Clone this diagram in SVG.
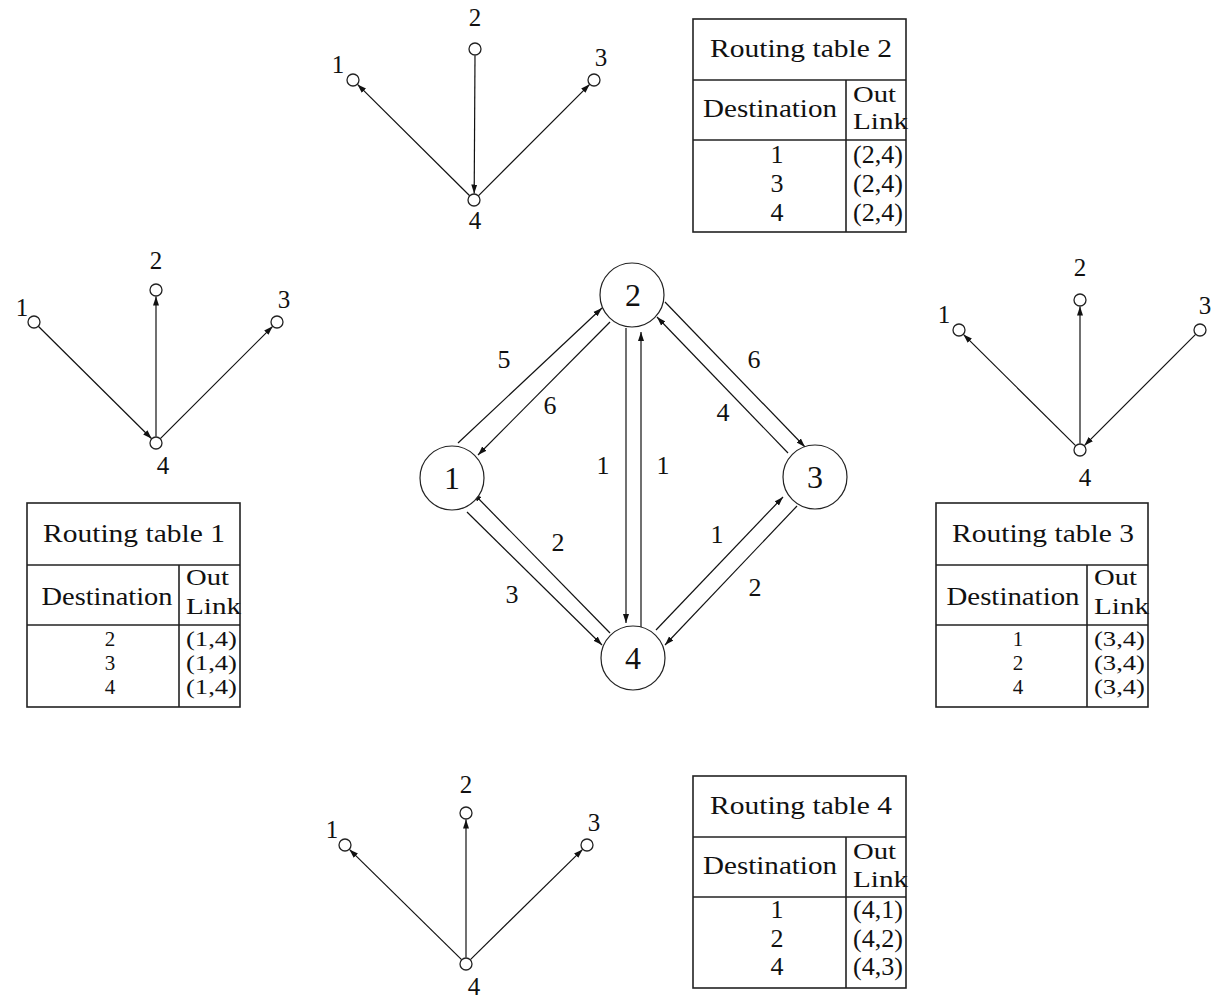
<svg xmlns="http://www.w3.org/2000/svg" width="1213" height="1006" viewBox="0 0 1213 1006">
<style>
text{font-family:"Liberation Serif","Times New Roman",serif;fill:#111}
.tt{font-size:26px}
.td{font-size:21px}
.ol{font-size:24px}
.lbl{font-size:25px;text-anchor:middle}
.nl{font-size:32px;text-anchor:middle}
.el{font-size:26px;text-anchor:middle}
.mid{text-anchor:middle}
.box{fill:#fff;stroke:#222;stroke-width:1.6}
.tl{stroke:#222;stroke-width:1.6}
.sn{fill:#fff;stroke:#222;stroke-width:1.3}
.bn{fill:#fff;stroke:#222;stroke-width:1.2}
.e{stroke:#111;stroke-width:1.2;fill:none;marker-end:url(#ah)}
</style>
<defs>
<marker id="ah" markerUnits="userSpaceOnUse" markerWidth="10" markerHeight="8" refX="9" refY="3.5" orient="auto">
<path d="M0,0.5 L9,3.5 L0,6.5 z" fill="#111"/>
</marker>
</defs>
<rect width="1213" height="1006" fill="#fff"/>

<!-- Connectors -->
<g id="connectors">
  <!-- top tree -->
  <line class="e" x1="469.7" y1="195.8" x2="357.5" y2="84.4"/>
  <line class="e" x1="475" y1="55.5" x2="474.2" y2="193.5"/>
  <line class="e" x1="478.3" y1="195.8" x2="589.7" y2="84.3"/>
  <!-- left tree -->
  <line class="e" x1="38.3" y1="326.3" x2="151.7" y2="438.7"/>
  <line class="e" x1="156" y1="436.5" x2="156" y2="296.5"/>
  <line class="e" x1="160.3" y1="438.7" x2="272.7" y2="326.3"/>
  <!-- right tree -->
  <line class="e" x1="1075.6" y1="445.6" x2="963.4" y2="334.4"/>
  <line class="e" x1="1080" y1="443.5" x2="1080" y2="306.5"/>
  <line class="e" x1="1195.6" y1="334.4" x2="1084.4" y2="445.6"/>
  <!-- bottom tree -->
  <line class="e" x1="461.6" y1="959.6" x2="349.4" y2="849.4"/>
  <line class="e" x1="466" y1="957.5" x2="466" y2="819.5"/>
  <line class="e" x1="470.4" y1="959.6" x2="582.6" y2="849.4"/>
  <!-- center graph -->
  <line class="e" x1="458" y1="443" x2="602" y2="308"/>
  <line class="e" x1="610" y1="322" x2="478" y2="455"/>
  <line class="e" x1="626" y1="328" x2="626" y2="623"/>
  <line class="e" x1="641" y1="627" x2="641" y2="332"/>
  <line class="e" x1="665" y1="302" x2="805" y2="447"/>
  <line class="e" x1="788" y1="453" x2="657" y2="317"/>
  <line class="e" x1="656" y1="630" x2="783" y2="497"/>
  <line class="e" x1="797" y1="506" x2="665" y2="645"/>
  <line class="e" x1="610" y1="633" x2="473" y2="493"/>
  <line class="e" x1="467" y1="512" x2="602" y2="645"/>
  <!-- edge labels -->
  <text class="el" x="504" y="368">5</text>
  <text class="el" x="550" y="414">6</text>
  <text class="el" x="603" y="474">1</text>
  <text class="el" x="663" y="474">1</text>
  <text class="el" x="754" y="368">6</text>
  <text class="el" x="723" y="421">4</text>
  <text class="el" x="717" y="543">1</text>
  <text class="el" x="755" y="596">2</text>
  <text class="el" x="558" y="551">2</text>
  <text class="el" x="512" y="603">3</text>
</g>

<!-- Center graph nodes -->
<g id="node-1"><circle class="bn" cx="452" cy="478" r="32"/><text class="nl" x="452" y="489">1</text></g>
<g id="node-2"><circle class="bn" cx="632" cy="295" r="32"/><text class="nl" x="633" y="306">2</text></g>
<g id="node-3"><circle class="bn" cx="815" cy="477" r="32"/><text class="nl" x="815" y="488">3</text></g>
<g id="node-4"><circle class="bn" cx="633" cy="658" r="32"/><text class="nl" x="633" y="669">4</text></g>

<!-- Top tree -->
<g id="tree-top">
  <circle class="sn" cx="353" cy="80" r="6"/>
  <circle class="sn" cx="475" cy="49" r="6"/>
  <circle class="sn" cx="594" cy="80" r="6"/>
  <circle class="sn" cx="474" cy="200" r="6"/>
  <text class="lbl" x="338" y="73">1</text>
  <text class="lbl" x="475" y="26">2</text>
  <text class="lbl" x="601" y="66">3</text>
  <text class="lbl" x="475" y="229">4</text>
</g>
<!-- Left tree -->
<g id="tree-left">
  <circle class="sn" cx="34" cy="322" r="6"/>
  <circle class="sn" cx="156" cy="290" r="6"/>
  <circle class="sn" cx="277" cy="322" r="6"/>
  <circle class="sn" cx="156" cy="443" r="6"/>
  <text class="lbl" x="22" y="316">1</text>
  <text class="lbl" x="156" y="269">2</text>
  <text class="lbl" x="284" y="308">3</text>
  <text class="lbl" x="163" y="474">4</text>
</g>
<!-- Right tree -->
<g id="tree-right">
  <circle class="sn" cx="959" cy="330" r="6"/>
  <circle class="sn" cx="1080" cy="300" r="6"/>
  <circle class="sn" cx="1200" cy="330" r="6"/>
  <circle class="sn" cx="1080" cy="450" r="6"/>
  <text class="lbl" x="944" y="323">1</text>
  <text class="lbl" x="1080" y="276">2</text>
  <text class="lbl" x="1205" y="314">3</text>
  <text class="lbl" x="1085" y="486">4</text>
</g>
<!-- Bottom tree -->
<g id="tree-bottom">
  <circle class="sn" cx="345" cy="845" r="6"/>
  <circle class="sn" cx="466" cy="813" r="6"/>
  <circle class="sn" cx="587" cy="845" r="6"/>
  <circle class="sn" cx="466" cy="964" r="6"/>
  <text class="lbl" x="332" y="838">1</text>
  <text class="lbl" x="466" y="793">2</text>
  <text class="lbl" x="594" y="831">3</text>
  <text class="lbl" x="474" y="995">4</text>
</g>

<!-- Routing table 2 -->
<g id="table-2">
  <rect class="box" x="693" y="19" width="213" height="213"/>
  <line class="tl" x1="693" y1="80" x2="906" y2="80"/>
  <line class="tl" x1="693" y1="140" x2="906" y2="140"/>
  <line class="tl" x1="846" y1="80" x2="846" y2="232"/>
  <text class="tt mid" x="801" y="57" textLength="182" lengthAdjust="spacingAndGlyphs">Routing table 2</text>
  <text class="tt mid" x="770" y="117" textLength="134" lengthAdjust="spacingAndGlyphs">Destination</text>
  <text class="ol" x="853" y="102" textLength="43" lengthAdjust="spacingAndGlyphs">Out</text>
  <text class="ol" x="853" y="129" textLength="55" lengthAdjust="spacingAndGlyphs">Link</text>
  <text class="tt mid" x="777" y="163">1</text>
  <text class="tt mid" x="777" y="192">3</text>
  <text class="tt mid" x="777" y="221">4</text>
  <text class="tt" x="853" y="163" textLength="50" lengthAdjust="spacingAndGlyphs">(2,4)</text>
  <text class="tt" x="853" y="192" textLength="50" lengthAdjust="spacingAndGlyphs">(2,4)</text>
  <text class="tt" x="853" y="221" textLength="50" lengthAdjust="spacingAndGlyphs">(2,4)</text>
</g>

<!-- Routing table 1 -->
<g id="table-1">
  <rect class="box" x="27" y="503" width="213" height="204"/>
  <line class="tl" x1="27" y1="565" x2="240" y2="565"/>
  <line class="tl" x1="27" y1="625" x2="240" y2="625"/>
  <line class="tl" x1="179" y1="565" x2="179" y2="707"/>
  <text class="tt mid" x="134" y="542" textLength="182" lengthAdjust="spacingAndGlyphs">Routing table 1</text>
  <text class="tt mid" x="107" y="605" textLength="131" lengthAdjust="spacingAndGlyphs">Destination</text>
  <text class="ol" x="186" y="585" textLength="43" lengthAdjust="spacingAndGlyphs">Out</text>
  <text class="ol" x="186" y="614" textLength="55" lengthAdjust="spacingAndGlyphs">Link</text>
  <text class="td mid" x="110" y="646">2</text>
  <text class="td mid" x="110" y="670">3</text>
  <text class="td mid" x="110" y="694">4</text>
  <text class="td" x="186" y="646" textLength="51" lengthAdjust="spacingAndGlyphs">(1,4)</text>
  <text class="td" x="186" y="670" textLength="51" lengthAdjust="spacingAndGlyphs">(1,4)</text>
  <text class="td" x="186" y="694" textLength="51" lengthAdjust="spacingAndGlyphs">(1,4)</text>
</g>

<!-- Routing table 3 -->
<g id="table-3">
  <rect class="box" x="936" y="503" width="212" height="204"/>
  <line class="tl" x1="936" y1="565" x2="1148" y2="565"/>
  <line class="tl" x1="936" y1="625" x2="1148" y2="625"/>
  <line class="tl" x1="1087" y1="565" x2="1087" y2="707"/>
  <text class="tt mid" x="1043" y="542" textLength="182" lengthAdjust="spacingAndGlyphs">Routing table 3</text>
  <text class="tt mid" x="1013" y="605" textLength="133" lengthAdjust="spacingAndGlyphs">Destination</text>
  <text class="ol" x="1094" y="585" textLength="43" lengthAdjust="spacingAndGlyphs">Out</text>
  <text class="ol" x="1094" y="614" textLength="55" lengthAdjust="spacingAndGlyphs">Link</text>
  <text class="td mid" x="1018" y="646">1</text>
  <text class="td mid" x="1018" y="670">2</text>
  <text class="td mid" x="1018" y="694">4</text>
  <text class="td" x="1094" y="646" textLength="51" lengthAdjust="spacingAndGlyphs">(3,4)</text>
  <text class="td" x="1094" y="670" textLength="51" lengthAdjust="spacingAndGlyphs">(3,4)</text>
  <text class="td" x="1094" y="694" textLength="51" lengthAdjust="spacingAndGlyphs">(3,4)</text>
</g>

<!-- Routing table 4 -->
<g id="table-4">
  <rect class="box" x="693" y="776" width="213" height="212"/>
  <line class="tl" x1="693" y1="837" x2="906" y2="837"/>
  <line class="tl" x1="693" y1="897" x2="906" y2="897"/>
  <line class="tl" x1="846" y1="837" x2="846" y2="988"/>
  <text class="tt mid" x="801" y="814" textLength="182" lengthAdjust="spacingAndGlyphs">Routing table 4</text>
  <text class="tt mid" x="770" y="874" textLength="134" lengthAdjust="spacingAndGlyphs">Destination</text>
  <text class="ol" x="853" y="859" textLength="43" lengthAdjust="spacingAndGlyphs">Out</text>
  <text class="ol" x="853" y="887" textLength="55" lengthAdjust="spacingAndGlyphs">Link</text>
  <text class="tt mid" x="777" y="918">1</text>
  <text class="tt mid" x="777" y="947">2</text>
  <text class="tt mid" x="777" y="975">4</text>
  <text class="tt" x="853" y="918" textLength="50" lengthAdjust="spacingAndGlyphs">(4,1)</text>
  <text class="tt" x="853" y="947" textLength="50" lengthAdjust="spacingAndGlyphs">(4,2)</text>
  <text class="tt" x="853" y="975" textLength="50" lengthAdjust="spacingAndGlyphs">(4,3)</text>
</g>
</svg>
